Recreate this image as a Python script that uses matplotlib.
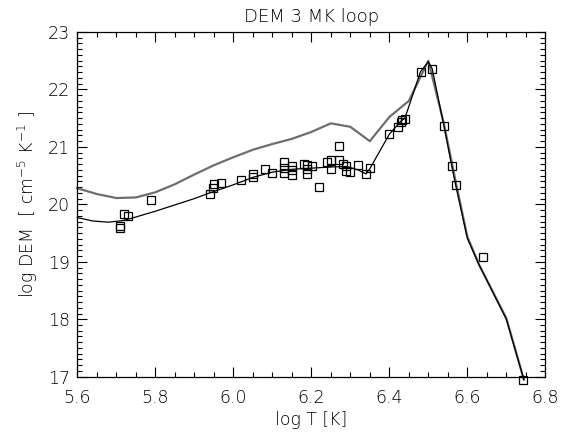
import matplotlib
matplotlib.use('Agg')
import matplotlib.pyplot as plt
import numpy as np
from matplotlib.ticker import MultipleLocator

# model DEM curves
t_fit = [5.60, 5.64, 5.68, 5.72, 5.74, 5.80, 5.85, 5.90, 5.94, 6.00, 6.05,
         6.10, 6.15, 6.20, 6.25, 6.29, 6.32, 6.34, 6.35, 6.40, 6.43, 6.44,
         6.48, 6.50, 6.51, 6.54, 6.56, 6.57, 6.60, 6.63, 6.70, 6.745]
dem_fit = [19.77, 19.71, 19.69, 19.72, 19.76, 19.88, 19.99, 20.10, 20.20,
           20.34, 20.47, 20.56, 20.61, 20.63, 20.65, 20.66, 20.60, 20.53,
           20.62, 21.22, 21.45, 21.50, 22.31, 22.48, 22.36, 21.37, 20.67,
           20.34, 19.41, 18.95, 18.00, 16.95]

t_true = [5.60, 5.65, 5.70, 5.75, 5.80, 5.85, 5.90, 5.95, 6.00, 6.05, 6.10,
          6.15, 6.20, 6.25, 6.30, 6.35, 6.40, 6.45, 6.50, 6.54, 6.57, 6.60,
          6.63, 6.70, 6.745]
dem_true = [20.28, 20.18, 20.11, 20.12, 20.21, 20.35, 20.52, 20.68, 20.82,
            20.95, 21.05, 21.14, 21.26, 21.41, 21.35, 21.10, 21.52, 21.80,
            22.50, 21.40, 20.40, 19.44, 18.95, 18.02, 16.95]

# EM loci points
t_pts = [5.709, 5.709, 5.720, 5.729, 5.789, 5.940, 5.949, 5.950, 5.969,
         6.020, 6.050, 6.050, 6.080, 6.099, 6.130, 6.130, 6.130, 6.150,
         6.150, 6.150, 6.180, 6.190, 6.190, 6.190, 6.201, 6.220, 6.239,
         6.250, 6.250, 6.270, 6.270, 6.280, 6.290, 6.290, 6.300, 6.320,
         6.340, 6.350, 6.400, 6.421, 6.430, 6.432, 6.441, 6.480, 6.510,
         6.540, 6.560, 6.570, 6.640, 6.742]
dem_pts = [19.62, 19.58, 19.84, 19.79, 20.08, 20.18, 20.29, 20.36, 20.38,
           20.42, 20.48, 20.52, 20.61, 20.54, 20.73, 20.64, 20.54, 20.67,
           20.59, 20.51, 20.70, 20.68, 20.61, 20.52, 20.67, 20.31, 20.73,
           20.78, 20.61, 21.02, 20.78, 20.70, 20.66, 20.58, 20.57, 20.69,
           20.52, 20.63, 21.22, 21.35, 21.44, 21.47, 21.48, 22.30, 22.36,
           21.37, 20.67, 20.34, 19.08, 16.95]

plt.rcParams['font.family'] = ['DejaVu Sans']
plt.rcParams['font.weight'] = 'light'
plt.rcParams['axes.titleweight'] = 'light'
plt.rcParams['axes.labelweight'] = 'light'
plt.rcParams['mathtext.default'] = 'regular'
fig = plt.figure(figsize=(5.87, 4.36), dpi=100)
ax = fig.add_axes([0.1317, 0.136, 0.7973, 0.7906])

ax.plot(t_true, dem_true, color='#6e6e6e', lw=1.6, clip_on=False)
ax.plot(t_fit, dem_fit, color='black', lw=0.9, clip_on=False)
ax.plot(t_pts, dem_pts, ls='none', marker='s', ms=5.5, mfc='none',
        mec='black', mew=0.9, clip_on=False)

ax.set_xlim(5.6, 6.8)
ax.set_ylim(17, 23)
ax.xaxis.set_major_locator(MultipleLocator(0.2))
ax.xaxis.set_minor_locator(MultipleLocator(0.05))
ax.yaxis.set_major_locator(MultipleLocator(1))
ax.yaxis.set_minor_locator(MultipleLocator(0.1))
ax.xaxis.set_major_formatter(plt.FuncFormatter(lambda v, p: f"{v:.1f}"))
ax.yaxis.set_major_formatter(plt.FuncFormatter(lambda v, p: f"{v:.0f}"))

ax.tick_params(which='both', direction='in', top=True, right=True,
               labelsize=12.5, width=0.8, color='black')
ax.tick_params(which='major', length=7)
ax.tick_params(which='minor', length=3.5)
ax.tick_params(axis='x', pad=9)
ax.tick_params(axis='y', pad=5)
for s in ax.spines.values():
    s.set_linewidth(0.9)

ax.set_title('DEM 3 MK loop', fontsize=13, pad=7)
ax.set_xlabel('log T [K]', fontsize=12.5, labelpad=3)
ax.set_ylabel(r'log DEM  [ cm$^{-5}$ K$^{-1}$ ]', fontsize=12.5, labelpad=6)

plt.savefig('out.png', dpi=100)
